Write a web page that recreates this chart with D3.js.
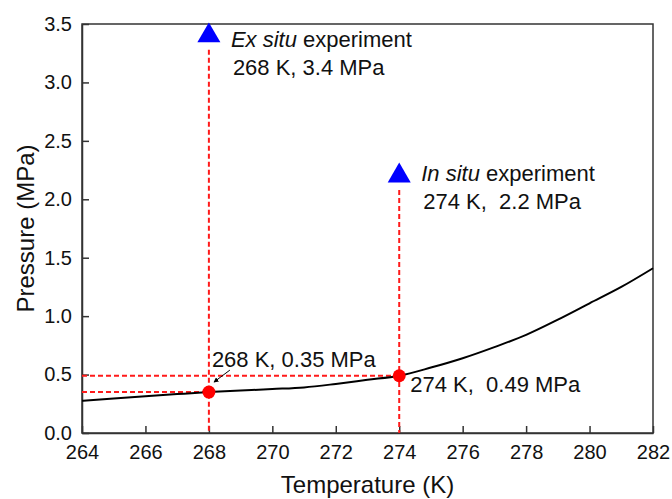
<!DOCTYPE html>
<html>
<head>
<meta charset="utf-8">
<script src="https://cdn.jsdelivr.net/npm/d3@7"></script>
<style>
  body { margin: 0; background: #fff; }
  svg text { font-family: "Liberation Sans", Arial, sans-serif; fill: #111; white-space: pre; }
</style>
</head>
<body>
<svg id="chart" width="672" height="499"></svg>
<script>
// phase boundary curve (temperature K, pressure MPa)
const curveT = [264, 265, 266, 267, 268, 269, 270, 271, 272, 273, 274, 275, 276, 277, 278, 279, 280, 281, 282];
const curveP = [0.276, 0.296, 0.315, 0.333, 0.35, 0.363, 0.376, 0.39, 0.42, 0.455, 0.49, 0.56, 0.64, 0.735, 0.84, 0.97, 1.11, 1.25, 1.41];

// experiment conditions
const expT = [268, 274];
const expP = [3.4, 2.2];
const expName = ["Ex situ", "In situ"];
const expLabel = ["268 K, 3.4 MPa", "274 K,  2.2 MPa"];

// equilibrium points on the curve
const eqT = [268, 274];
const eqP = [0.35, 0.49];
const eqLabel = ["268 K, 0.35 MPa", "274 K,  0.49 MPa"];

const xTicks = [264, 266, 268, 270, 272, 274, 276, 278, 280, 282];
const yTicks = [0, 0.5, 1.0, 1.5, 2.0, 2.5, 3.0, 3.5];

const svg = d3.select("#chart");
const margin = { top: 24, right: 19, bottom: 66, left: 82 };
const width = 672, height = 499;

const x = d3.scaleLinear().domain([264, 282]).range([margin.left, width - margin.right]);
const y = d3.scaleLinear().domain([0, 3.5]).range([height - margin.bottom, margin.top]);

// frame
svg.append("rect")
  .attr("x", x(264)).attr("y", y(3.5))
  .attr("width", x(282) - x(264)).attr("height", y(0) - y(3.5))
  .attr("fill", "none").attr("stroke", "#333").attr("stroke-width", 1.5);

// axes with inward ticks
const xAxis = svg.append("g").attr("transform", `translate(0,${y(0)})`)
  .call(d3.axisBottom(x).tickValues(xTicks).tickSizeInner(-7).tickSizeOuter(0).tickPadding(12).tickFormat(d3.format("d")));
const yAxis = svg.append("g").attr("transform", `translate(${x(264)},0)`)
  .call(d3.axisLeft(y).tickValues(yTicks).tickSizeInner(-7).tickSizeOuter(0).tickPadding(10).tickFormat(d3.format(".1f")));
[xAxis, yAxis].forEach(g => {
  g.select(".domain").attr("stroke", "#333").attr("stroke-width", 1.5);
  g.selectAll(".tick line").attr("stroke", "#333").attr("stroke-width", 1.5);
  g.selectAll(".tick text").style("font-size", "20px").attr("fill", "#111");
});

// axis titles
svg.append("text")
  .attr("x", (x(264) + x(282)) / 2).attr("y", 493)
  .attr("text-anchor", "middle").style("font-size", "24px")
  .text("Temperature (K)");
svg.append("text")
  .attr("transform", `translate(34,${(y(0) + y(3.5)) / 2}) rotate(-90)`)
  .attr("text-anchor", "middle").style("font-size", "24px")
  .text("Pressure (MPa)");

// dashed guide lines
const dash = svg.append("g").attr("stroke", "#ff1a1a").attr("stroke-width", 2).attr("stroke-dasharray", "5,3").attr("fill", "none");
expT.forEach((t, i) => {
  dash.append("line").attr("x1", x(t)).attr("x2", x(t)).attr("y1", y(expP[i]) + 14).attr("y2", y(0));
});
eqT.forEach((t, i) => {
  dash.append("line").attr("x1", x(264)).attr("x2", x(t)).attr("y1", y(eqP[i])).attr("y2", y(eqP[i]));
});

// curve
const line = d3.line().x(d => x(d[0])).y(d => y(d[1])).curve(d3.curveMonotoneX);
svg.append("path")
  .datum(curveT.map((t, i) => [t, curveP[i]]))
  .attr("d", line).attr("fill", "none").attr("stroke", "#000").attr("stroke-width", 2);

// equilibrium dots
svg.selectAll(".eq").data(eqT).join("circle")
  .attr("cx", d => x(d)).attr("cy", (d, i) => y(eqP[i])).attr("r", 6.5).attr("fill", "#ff0000");

// experiment triangles
svg.selectAll(".exp").data(expT).join("path")
  .attr("transform", (d, i) => `translate(${x(d)},${y(expP[i])})`)
  .attr("d", d3.symbol().type(d3.symbolTriangle).size(230))
  .attr("fill", "#0000ff");

// experiment labels (ex situ sits a bit lower, its top is at the frame)
const labelDy = [11, 5];
expT.forEach((t, i) => {
  const t1 = svg.append("text").attr("x", x(t) + 22).attr("y", y(expP[i]) + labelDy[i]).style("font-size", "22px");
  t1.append("tspan").style("font-style", "italic").text(expName[i]);
  t1.append("tspan").text(" experiment");
  svg.append("text").attr("x", x(t) + 24).attr("y", y(expP[i]) + labelDy[i] + 28).style("font-size", "22px").text(expLabel[i]);
});

// equilibrium labels
svg.append("text").attr("x", x(eqT[0]) + 3).attr("y", y(eqP[0]) - 25).style("font-size", "22px").text(eqLabel[0]);
svg.append("text").attr("x", x(eqT[1]) + 11).attr("y", y(eqP[1]) + 16).style("font-size", "22px").text(eqLabel[1]);

// small arrow pointing to first dot
svg.append("defs").append("marker")
  .attr("id", "ah").attr("viewBox", "0 0 10 10").attr("refX", 9).attr("refY", 5)
  .attr("markerWidth", 5).attr("markerHeight", 5).attr("orient", "auto")
  .append("path").attr("d", "M0,0L10,5L0,10z").attr("fill", "#000");
svg.append("line")
  .attr("x1", x(eqT[0]) + 21).attr("y1", y(eqP[0]) - 22)
  .attr("x2", x(eqT[0]) + 5).attr("y2", y(eqP[0]) - 10)
  .attr("stroke", "#000").attr("stroke-width", 1).attr("marker-end", "url(#ah)");
</script>
</body>
</html>
